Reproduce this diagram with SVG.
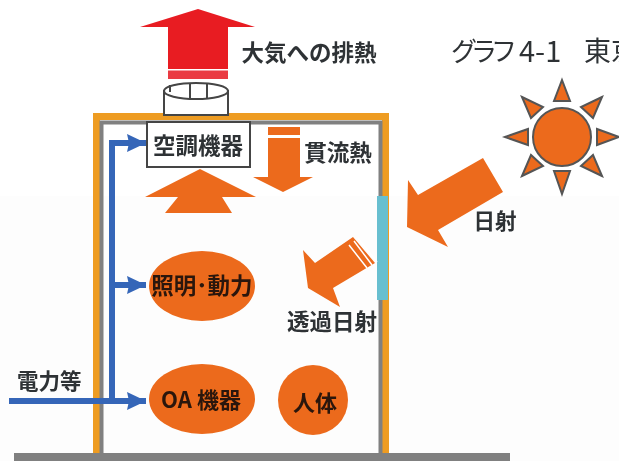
<svg xmlns="http://www.w3.org/2000/svg" width="619" height="461" viewBox="0 0 619 461">
<defs>
<filter id="soft" x="-2%" y="-2%" width="104%" height="104%"><feGaussianBlur stdDeviation="0.6"/></filter>
<marker id="bh" markerUnits="userSpaceOnUse" markerWidth="22" markerHeight="22" refX="20" refY="11" orient="auto"><path d="M1 2L20 11L1 20L3 11Z" fill="#3566b8"/></marker>
</defs>
<style>
text{font-family:"Noto Sans CJK JP","Noto Sans",sans-serif;fill:#2f3336;font-weight:700}
.lb{font-size:22.500px;text-anchor:middle}
.or{fill:#ec6a1c}
.sun{fill:#ec6a1c;stroke:#555;stroke-width:2}
.blue{fill:none;stroke:#3566b8;stroke-width:6}
</style>
<rect width="619" height="461" fill="#fff"/>
<rect y="196" width="619" height="265" fill="#fdfdfd"/>
<g filter="url(#soft)">
<g id="ground"><rect x="14" y="453" width="496" height="8" fill="#808080"/></g>
<g id="building">
<path d="M96.500 453V116.500H385.500V453" fill="none" stroke="#ee9c22" stroke-width="7"/>
<path d="M101.500 453V122.500H380.500V453" fill="none" stroke="#808080" stroke-width="4"/>
<rect x="377" y="196" width="11" height="104" fill="#68bfd0"/>
</g>
<g id="exhaust">
<path d="M198 9L255 27H228V69H168V27H140Z" fill="#e81c24"/>
<rect x="168" y="70.500" width="60" height="8.500" fill="#ea3a42"/>
<text x="309" y="61" style="font-size:22.500px;text-anchor:middle">大気への排熱</text>
</g>
<g id="duct" fill="#fff" stroke="#444" stroke-width="2">
<path d="M164 115V91H228V115Z"/>
<ellipse cx="196" cy="91" rx="32" ry="8"/>
<path d="M190 84V98M207 84V98M170 85V92" fill="none"/>
</g>
<g id="aircon">
<rect x="147" y="122" width="103" height="45" fill="#fff" stroke="#444" stroke-width="2"/>
<text class="lb" x="198" y="154">空調機器</text>
</g>
<g id="heat-up"><path d="M200 169L256 197H222L232 213H165L178 197H145Z" class="or"/></g>
<g id="heat-through">
<path d="M268 127H300V135H268ZM268 138H300V177H313L283 192L253 177H268Z" class="or"/>
<text x="338" y="161" style="font-size:22.500px;text-anchor:middle">貫流熱</text>
</g>
<g id="sun">
<circle cx="562" cy="137" r="29" class="sun"/>
<path class="sun" d="M562 80L570 101H554Z"/>
<path class="sun" d="M562 194L570 171H554Z"/>
<path class="sun" d="M505 137L528 129V145Z"/>
<path class="sun" d="M619 137L597 129V145Z"/>
<path class="sun" d="M522 97L543 107L531 118Z"/>
<path class="sun" d="M602 97L581 107L593 118Z"/>
<path class="sun" d="M522 176L543 166L531 155Z"/>
<path class="sun" d="M602 176L581 166L593 155Z"/>
</g>
<g id="solar">
<path d="M483 158L503 192L438 230L448 247L407 227L408 180L418 195Z" class="or"/>
<text x="495" y="229" style="font-size:21.500px;text-anchor:middle">日射</text>
</g>
<g id="transmitted">
<path d="M353 237L375 263L333 288L340 307L308 288L303 250L315 263Z" class="or"/>
<path d="M349 245L367 268M354 241L372 265M358 238L377 262" stroke="#fff" stroke-width="1.500" fill="none"/>
<text x="332" y="330" style="font-size:22.500px;text-anchor:middle">透過日射</text>
</g>
<g id="lighting">
<ellipse cx="202" cy="286" rx="53" ry="35" class="or"/>
<text x="202" y="294" style="font-size:22.500px;text-anchor:middle;fill:#2a1608">照明･動力</text>
</g>
<g id="oa">
<ellipse cx="202" cy="399" rx="53" ry="35" class="or"/>
<text x="201" y="408" style="font-size:22px;text-anchor:middle;fill:#2a1608">OA 機器</text>
</g>
<g id="human">
<circle cx="313" cy="400" r="35" class="or"/>
<text x="315" y="411" style="font-size:22px;text-anchor:middle;fill:#2a1608">人体</text>
</g>
<g id="connectors">
<path class="blue" d="M9 401H146" marker-end="url(#bh)"/>
<path class="blue" d="M112 401V143H146" marker-end="url(#bh)"/>
<path class="blue" d="M112 285H146" marker-end="url(#bh)"/>
</g>
<text x="17" y="389" style="font-size:21.500px">電力等</text>
<text x="451" y="61" style="font-size:26px;font-weight:400;letter-spacing:-6px">グラフ</text>
<text x="519" y="62" style="font-size:29px;font-weight:400">4-1</text>
<text x="584" y="61" style="font-size:27px;font-weight:400">東京</text>
</g>
</svg>
